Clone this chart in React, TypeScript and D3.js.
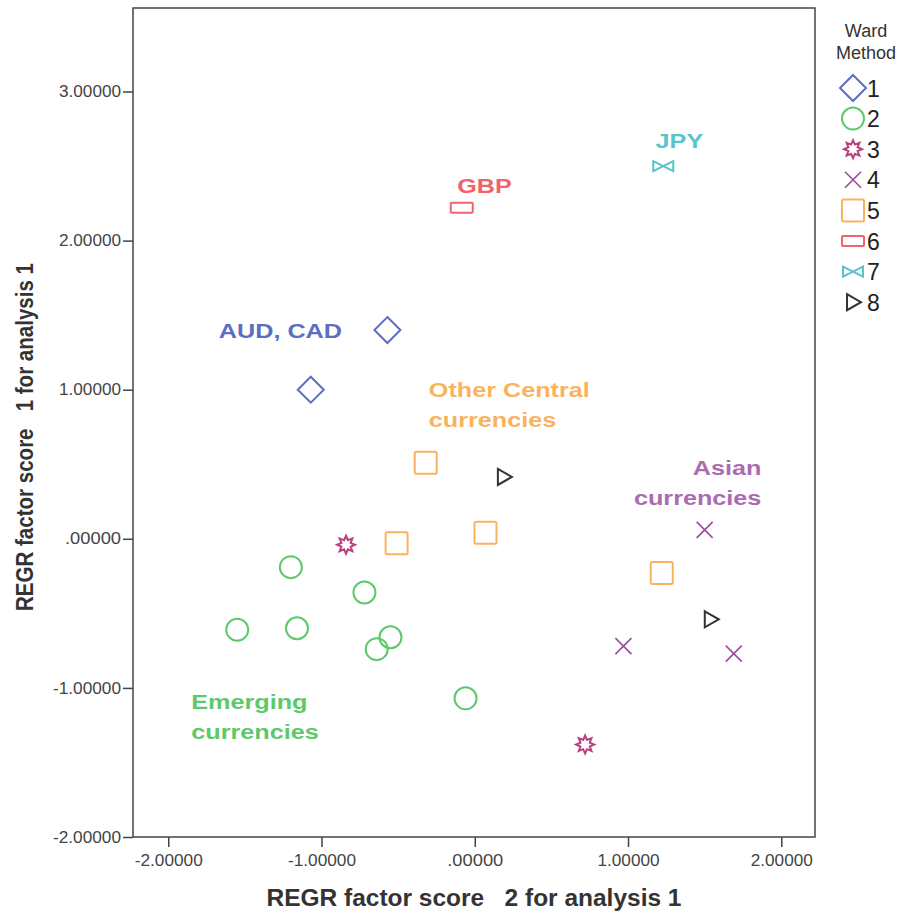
import { useRef, useEffect } from "react";
import * as d3 from "d3";

// cluster (Ward method) of each currency, with its two factor scores
const clusters = [1, 2, 3, 4, 5, 6, 7, 8];
const clusterColors = ["#5b6ec2", "#5dc96c", "#b8407f", "#9b4b9c", "#f9b35e", "#f0636c", "#58c4c9", "#333333"];

const scoreX = [-0.57, -1.07, -1.2, -1.55, -1.16, -0.72, -0.55, -0.64, -0.06, -0.84, 0.72, 1.5, 0.97, 1.69, -0.32, -0.51, 0.07, 1.22, -0.085, 1.23, 0.19, 1.54];
const scoreY = [1.4, 1.0, -0.19, -0.61, -0.6, -0.36, -0.66, -0.74, -1.07, -0.04, -1.38, 0.06, -0.72, -0.77, 0.51, -0.03, 0.04, -0.23, 2.22, 2.5, 0.415, -0.54];
const ward = [1, 1, 2, 2, 2, 2, 2, 2, 2, 3, 3, 4, 4, 4, 5, 5, 5, 5, 6, 7, 8, 8];

const xTicks = [-2, -1, 0, 1, 2];
const yTicks = [-2, -1, 0, 1, 2, 3];

// group annotations: text lines, anchor value, alignment
const annotations = [
  { lines: ["AUD, CAD"], x: -1.67, y: 1.35, cluster: 1, anchor: "start" },
  { lines: ["GBP"], x: -0.115, y: 2.32, cluster: 6, anchor: "start" },
  { lines: ["JPY"], x: 1.18, y: 2.62, cluster: 7, anchor: "start" },
  { lines: ["Other Central", "currencies"], x: -0.3, y: 0.95, cluster: 5, anchor: "start" },
  { lines: ["Asian", "currencies"], x: 1.87, y: 0.43, cluster: 4, anchor: "end" },
  { lines: ["Emerging", "currencies"], x: -1.85, y: -1.14, cluster: 2, anchor: "start" },
];
const annotationColors: Record<number, string> = { 1: "#5b6ec2", 2: "#5dc96c", 4: "#a96cb0", 5: "#f9b35e", 6: "#f0636c", 7: "#58c4c9" };

const width = 905;
const height = 913;
const margin = { left: 133, right: 90, top: 8, bottom: 76 };

const fmt = (v: number) => {
  const s = v.toFixed(5);
  return s.replace(/^(-?)0\./, "$1.");
};

function drawMarker(g: any, k: number, color: string) {
  const sw = 2;
  if (k === 1) {
    g.append("path").attr("d", "M0,-13L13,0L0,13L-13,0Z").attr("fill", "none").attr("stroke", color).attr("stroke-width", sw);
  } else if (k === 2) {
    g.append("circle").attr("r", 11).attr("fill", "none").attr("stroke", color).attr("stroke-width", sw);
  } else if (k === 3) {
    const pts: [number, number][] = d3.range(16).map((i) => {
      const a = (i * Math.PI) / 8 - Math.PI / 2;
      const r = i % 2 === 0 ? 9 : 5;
      return [Math.cos(a) * r, Math.sin(a) * r];
    });
    g.append("path").attr("d", d3.line()(pts) + "Z").attr("fill", "none").attr("stroke", color).attr("stroke-width", sw);
  } else if (k === 4) {
    g.append("path").attr("d", "M-8,-8L8,8M-8,8L8,-8").attr("fill", "none").attr("stroke", color).attr("stroke-width", 1.6);
  } else if (k === 5) {
    g.append("rect").attr("x", -11).attr("y", -11).attr("width", 22).attr("height", 22).attr("rx", 1.5).attr("fill", "none").attr("stroke", color).attr("stroke-width", sw);
  } else if (k === 6) {
    g.append("rect").attr("x", -11).attr("y", -5).attr("width", 22).attr("height", 10).attr("rx", 1).attr("fill", "none").attr("stroke", color).attr("stroke-width", sw);
  } else if (k === 7) {
    g.append("path").attr("d", "M-10,-5L10,5L10,-5L-10,5Z").attr("fill", "none").attr("stroke", color).attr("stroke-width", sw);
  } else {
    g.append("path").attr("d", "M-6,-8L8,0L-6,8Z").attr("fill", "none").attr("stroke", color).attr("stroke-width", sw);
  }
}

const App = () => {
  const svgRef = useRef<SVGSVGElement>(null);

  useEffect(() => {
    const svg = d3.select(svgRef.current);
    svg.selectAll("*").remove();

    const x = d3.scaleLinear().domain([-2.23, 2.22]).range([margin.left, width - margin.right]);
    const y = d3.scaleLinear().domain([-2, 3.56]).range([height - margin.bottom, margin.top]);

    const axisColor = "#444";
    const tickFont = "Liberation Sans, Arial, sans-serif";

    // frame
    svg
      .append("rect")
      .attr("x", x(-2.23))
      .attr("y", y(3.56))
      .attr("width", x(2.22) - x(-2.23))
      .attr("height", y(-2) - y(3.56))
      .attr("fill", "none")
      .attr("stroke", axisColor)
      .attr("stroke-width", 1.5);

    const xAxis = svg
      .append("g")
      .attr("transform", `translate(0,${y(-2)})`)
      .call(d3.axisBottom(x).tickValues(xTicks).tickSize(10).tickSizeOuter(0).tickFormat((d: any) => fmt(d)));
    xAxis.select(".domain").remove();
    xAxis.selectAll("line").attr("stroke", axisColor).attr("stroke-width", 1.5);
    xAxis.selectAll("text").attr("font-family", tickFont).attr("font-size", 16).attr("fill", "#444").attr("y", 13).attr("dy", "1em").attr("textLength", 68).attr("lengthAdjust", "spacingAndGlyphs");
    xAxis.selectAll("text").filter((d: any) => d >= 0).attr("textLength", (d: any) => (d === 0 ? 56 : 62));

    const yAxis = svg
      .append("g")
      .attr("transform", `translate(${x(-2.23)},0)`)
      .call(d3.axisLeft(y).tickValues(yTicks).tickSize(10).tickSizeOuter(0).tickFormat((d: any) => fmt(d)));
    yAxis.select(".domain").remove();
    yAxis.selectAll("line").attr("stroke", axisColor).attr("stroke-width", 1.5);
    yAxis.selectAll("text").attr("font-family", tickFont).attr("font-size", 16).attr("fill", "#444").attr("x", -12).attr("textLength", 68).attr("lengthAdjust", "spacingAndGlyphs");
    yAxis.selectAll("text").filter((d: any) => d >= 0).attr("textLength", (d: any) => (d === 0 ? 56 : 62));

    // axis titles
    const titleFont = "Liberation Sans, Arial, sans-serif";
    svg
      .append("text")
      .attr("x", (x(-2.23) + x(2.22)) / 2)
      .attr("y", 906)
      .attr("text-anchor", "middle")
      .attr("font-family", titleFont)
      .attr("font-weight", "bold")
      .attr("font-size", 23)
      .attr("fill", "#333")
      .attr("textLength", 415)
      .attr("lengthAdjust", "spacingAndGlyphs")
      .attr("xml:space", "preserve")
      .text("REGR factor score   2 for analysis 1");
    svg
      .append("text")
      .attr("transform", `translate(33,437) rotate(-90)`)
      .attr("text-anchor", "middle")
      .attr("font-family", titleFont)
      .attr("font-weight", "bold")
      .attr("font-size", 23)
      .attr("fill", "#333")
      .attr("textLength", 348)
      .attr("lengthAdjust", "spacingAndGlyphs")
      .attr("xml:space", "preserve")
      .text("REGR factor score   1 for analysis 1");

    // points
    svg
      .append("g")
      .selectAll("g")
      .data(d3.range(scoreX.length))
      .enter()
      .append("g")
      .attr("transform", (i) => `translate(${x(scoreX[i])},${y(scoreY[i])})`)
      .each(function (i) {
        drawMarker(d3.select(this), ward[i], clusterColors[ward[i] - 1]);
      });

    // annotations (source text is wider than plain Arial)
    annotations.forEach((a) => {
      const t = svg
        .append("g")
        .attr("transform", `translate(${x(a.x)},${y(a.y)}) scale(1.2,1)`)
        .append("text")
        .attr("text-anchor", a.anchor)
        .attr("font-family", "Liberation Sans, Arial, sans-serif")
        .attr("font-weight", "bold")
        .attr("font-size", 21)
        .attr("fill", annotationColors[a.cluster]);
      a.lines.forEach((l, j) => {
        t.append("tspan").attr("x", 0).attr("dy", j === 0 ? 0 : 30).text(l);
      });
    });

    // legend
    const legend = svg.append("g");
    legend
      .append("text")
      .attr("text-anchor", "middle")
      .attr("font-family", tickFont)
      .attr("font-size", 18)
      .attr("fill", "#333")
      .selectAll("tspan")
      .data(["Ward", "Method"])
      .enter()
      .append("tspan")
      .attr("x", 866)
      .attr("y", (d, i) => (i === 0 ? 37 : 59))
      .text((d) => d);

    const item = legend
      .selectAll(".item")
      .data(clusters)
      .enter()
      .append("g")
      .attr("class", "item")
      .attr("transform", (d, i) => `translate(853,${88 + i * 30.6})`);
    item.each(function (d) {
      drawMarker(d3.select(this), d, clusterColors[d - 1]);
    });
    item
      .append("text")
      .attr("x", 14)
      .attr("y", 8.5)
      .attr("font-family", tickFont)
      .attr("font-size", 23)
      .attr("fill", "#222")
      .text((d) => d);
  }, []);

  return (
    <svg
      ref={svgRef}
      width={width}
      height={height}
      style={{ position: "absolute", left: 0, top: 0, background: "#fff" }}
    ></svg>
  );
};

export default App;
